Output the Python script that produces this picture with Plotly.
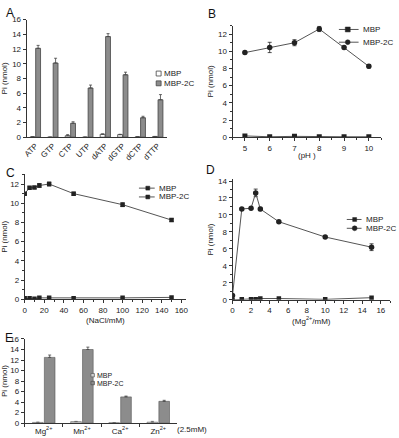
import plotly.graph_objects as go

# ---------------- data ----------------
A_cats = ["ATP", "GTP", "CTP", "UTP", "dATP", "dGTP", "dCTP", "dTTP"]
A_mbp = [0.05, 0.0, 0.2, 0.0, 0.4, 0.35, 0.05, 0.1]
A_mbp_err = [0, 0, 0.15, 0, 0.05, 0.05, 0, 0]
A_2c = [12.1, 10.1, 1.9, 6.7, 13.7, 8.5, 2.65, 5.1]
A_2c_err = [0.4, 0.65, 0.2, 0.4, 0.4, 0.35, 0.2, 0.7]

B_ph = [5, 6, 7, 8, 9, 10]
B_mbp = [0.15, 0.05, 0.1, 0.05, 0.05, 0.05]
B_2c = [9.85, 10.45, 11.0, 12.6, 10.45, 8.25]
B_2c_err = [0.15, 0.6, 0.35, 0.3, 0.15, 0.2]

C_nacl = [0, 5, 10, 15, 25, 50, 100, 150]
C_mbp = [0.1, 0.1, 0.05, 0.15, 0.15, 0.1, 0.15, 0.2]
C_2c = [11.0, 11.6, 11.65, 11.85, 12.0, 11.0, 9.85, 8.25]
C_2c_err = [0.1, 0.1, 0.1, 0.2, 0.2, 0.15, 0.2, 0.15]

D_mg = [0, 1, 2, 2.5, 3, 5, 10, 15]
D_mbp = [0.0, 0.05, 0.05, 0.05, 0.15, 0.15, 0.05, 0.25]
D_2c = [0.5, 10.7, 10.8, 12.6, 10.7, 9.2, 7.4, 6.2]
D_2c_err = [0.1, 0.1, 0.1, 0.45, 0.2, 0.1, 0.1, 0.4]

E_cats = ["Mg<sup>2+</sup>", "Mn<sup>2+</sup>", "Ca<sup>2+</sup>", "Zn<sup>2+</sup>"]
E_mbp = [0.15, 0.3, 0.1, 0.2]
E_mbp_err = [0.05, 0.05, 0.03, 0.15]
E_2c = [12.5, 14.0, 5.0, 4.15]
E_2c_err = [0.45, 0.45, 0.15, 0.2]

SERIES = ["MBP", "MBP-2C"]

W, H = 399, 438
FONT = "Arial, Liberation Sans, sans-serif"
BAR_GRAY = "#8c8c8c"
DARK = "#222222"
LINE = "#555555"


def px_x(a, b):
    return [a / W, b / W]


def px_y(top, bottom):
    return [1 - bottom / H, 1 - top / H]


fig = go.Figure()

# ---------- A ----------
fig.add_trace(go.Bar(x=A_cats, y=A_mbp, name=SERIES[0], xaxis="x", yaxis="y",
                     marker=dict(color="white", line=dict(color="#444", width=0.8)),
                     error_y=dict(type="data", array=A_mbp_err, arrayminus=[0]*8, symmetric=False,
                                  color="#444", thickness=0.8, width=1.5)))
fig.add_trace(go.Bar(x=A_cats, y=A_2c, name=SERIES[1], xaxis="x", yaxis="y",
                     marker=dict(color=BAR_GRAY, line=dict(color="#444", width=0.8)),
                     error_y=dict(type="data", array=A_2c_err, arrayminus=[0]*8, symmetric=False,
                                  color="#444", thickness=0.8, width=1.5)))

# ---------- B ----------
line_kw = dict(mode="lines+markers", line=dict(color=LINE, width=1))
fig.add_trace(go.Scatter(x=B_ph, y=B_mbp, name=SERIES[0], xaxis="x2", yaxis="y2",
                         marker=dict(symbol="square", size=5, color=DARK), **line_kw))
fig.add_trace(go.Scatter(x=B_ph, y=B_2c, name=SERIES[1], xaxis="x2", yaxis="y2",
                         marker=dict(symbol="circle", size=5.5, color=DARK),
                         error_y=dict(type="data", array=B_2c_err, color=DARK, thickness=0.8, width=2),
                         **line_kw))

# ---------- C ----------
fig.add_trace(go.Scatter(x=C_nacl, y=C_mbp, name=SERIES[0], xaxis="x3", yaxis="y3",
                         marker=dict(symbol="square", size=4.5, color=DARK), **line_kw))
fig.add_trace(go.Scatter(x=C_nacl, y=C_2c, name=SERIES[1], xaxis="x3", yaxis="y3",
                         marker=dict(symbol="square", size=4.5, color=DARK),
                         error_y=dict(type="data", array=C_2c_err, color=DARK, thickness=0.8, width=2),
                         **line_kw))

# ---------- D ----------
fig.add_trace(go.Scatter(x=D_mg, y=D_mbp, name=SERIES[0], xaxis="x4", yaxis="y4",
                         marker=dict(symbol="square", size=4.5, color=DARK), **line_kw))
fig.add_trace(go.Scatter(x=D_mg, y=D_2c, name=SERIES[1], xaxis="x4", yaxis="y4",
                         marker=dict(symbol="circle", size=5.5, color=DARK),
                         error_y=dict(type="data", array=D_2c_err, color=DARK, thickness=0.8, width=2),
                         **line_kw))

# ---------- E ----------
fig.add_trace(go.Bar(x=E_cats, y=E_mbp, name=SERIES[0], xaxis="x5", yaxis="y5",
                     marker=dict(color="#d0d0d0", line=dict(color="#666", width=0.6)),
                     error_y=dict(type="data", array=E_mbp_err, arrayminus=[0]*4, symmetric=False,
                                  color="#666", thickness=0.8, width=1.5)))
fig.add_trace(go.Bar(x=E_cats, y=E_2c, name=SERIES[1], xaxis="x5", yaxis="y5",
                     marker=dict(color=BAR_GRAY, line=dict(color="#555", width=0.6)),
                     error_y=dict(type="data", array=E_2c_err, arrayminus=[0]*4, symmetric=False,
                                  color="#444", thickness=0.8, width=1.5)))

axis_common = dict(showline=True, linecolor="#333", linewidth=1, ticklen=3,
                   tickcolor="#333", tickwidth=1, showgrid=False, zeroline=False,
                   tickfont=dict(size=8, color="#222", family=FONT))
minor = dict(ticks="outside", ticklen=2, tickcolor="#333", showgrid=False)
ytitle = dict(text="Pi (nmol)", font=dict(size=8, color="#222", family=FONT), standoff=3)
xtitle_font = dict(size=8, color="#222", family=FONT)

fig.update_layout(
    width=W, height=H, margin=dict(l=0, r=0, t=0, b=0),
    paper_bgcolor="white", plot_bgcolor="white",
    font=dict(family=FONT, size=8, color="#222"),
    showlegend=False,
    barmode="group", bargap=0.38, bargroupgap=0.1,
    xaxis=dict(domain=px_x(23, 165), anchor="y", tickangle=-45, ticks="", **axis_common),
    yaxis=dict(domain=px_y(16, 136), anchor="x", range=[0, 16], dtick=2, ticks="outside",
               title=ytitle, **axis_common),
    xaxis2=dict(domain=px_x(232, 383), anchor="y2", range=[4.5, 10.5], dtick=1, ticks="outside",
                title=dict(text="(pH )", font=xtitle_font, standoff=0), minor=dict(dtick=0.5, **minor), **axis_common),
    yaxis2=dict(domain=px_y(22, 136), anchor="x2", range=[0, 13], dtick=2, ticks="outside", title=ytitle,
                minor=dict(dtick=1, **minor), **axis_common),
    xaxis3=dict(domain=px_x(21, 185), anchor="y3", range=[0, 165], dtick=20, ticks="outside",
                title=dict(text="(NaCl/mM)", font=xtitle_font, standoff=3), minor=dict(dtick=10, **minor), **axis_common),
    yaxis3=dict(domain=px_y(174, 301.5), anchor="x3", range=[0, 13], dtick=2, ticks="outside", title=ytitle,
                minor=dict(dtick=1, **minor), **axis_common),
    xaxis4=dict(domain=px_x(232, 392), anchor="y4", range=[0, 17], dtick=2, ticks="outside",
                title=dict(text="(Mg<sup>2+</sup>/mM)", font=xtitle_font, standoff=0), minor=dict(dtick=1, **minor), **axis_common),
    yaxis4=dict(domain=px_y(179, 302), anchor="x4", range=[0, 14.2], dtick=2, ticks="outside", title=ytitle,
                minor=dict(dtick=1, **minor), **axis_common),
    xaxis5=dict(domain=px_x(21, 176), anchor="y5", ticks="outside", tickson="boundaries", **axis_common),
    yaxis5=dict(domain=px_y(342, 428), anchor="x5", range=[0, 16], dtick=2, ticks="outside",
                title=ytitle, **axis_common),
)

# ---------- hand-drawn legends (paper coordinates, pixel helpers) ----------
def X(p):
    return p / W


def Y(p):
    return 1 - p / H


def legend_text(label, x, y, size=8):
    fig.add_annotation(text=label, x=X(x), y=Y(y), xref="paper", yref="paper",
                       xanchor="left", yanchor="middle", showarrow=False,
                       font=dict(size=size, color="#222", family=FONT))


def legend_box(label, x, y, fill, edge, s=5, size=8):
    fig.add_shape(type="rect", xref="paper", yref="paper",
                  x0=X(x - s / 2), x1=X(x + s / 2), y0=Y(y + s / 2), y1=Y(y - s / 2),
                  fillcolor=fill, line=dict(color=edge, width=0.8))
    legend_text(label, x + s / 2 + 1, y, size)


def legend_line(label, x0, x1, xm, y, symbol, s=5):
    fig.add_shape(type="line", xref="paper", yref="paper",
                  x0=X(x0), x1=X(x1), y0=Y(y), y1=Y(y), line=dict(color=LINE, width=1))
    fig.add_shape(type="circle" if symbol == "circle" else "rect", xref="paper", yref="paper",
                  x0=X(xm - s / 2), x1=X(xm + s / 2), y0=Y(y + s / 2), y1=Y(y - s / 2),
                  fillcolor=DARK, line=dict(color=DARK, width=0.5))
    legend_text(label, x1 + 2, y)


# A
legend_box(SERIES[0], 157, 71, "white", "#444")
legend_box(SERIES[1], 157, 81, BAR_GRAY, "#444")
# B
legend_line(SERIES[0], 340, 360, 349, 26, "square")
legend_line(SERIES[1], 340, 360, 349, 39, "circle")
# C
legend_line(SERIES[0], 137, 153, 146, 188, "square", 4)
legend_line(SERIES[1], 137, 153, 146, 197, "square", 4)
# D
legend_line(SERIES[0], 348, 363, 356, 220, "square", 4)
legend_line(SERIES[1], 348, 363, 356, 229, "circle", 5)
# E
legend_box(SERIES[0], 90, 379, "#d0d0d0", "#666", 3.5, 7)
legend_box(SERIES[1], 90, 387, BAR_GRAY, "#555", 3.5, 7)

panel_font = dict(size=12, color="#111", family=FONT)
for letter, xp, yp in [("A", 0, 0), ("B", 205, 1), ("C", 0, 163), ("D", 203, 160), ("E", -1, 332)]:
    fig.add_annotation(text=letter, x=X(xp), y=Y(yp), xref="paper", yref="paper",
                       xanchor="left", yanchor="top", showarrow=False, font=panel_font)

fig.add_annotation(text="(2.5mM)", x=X(174), y=Y(428), xref="paper", yref="paper",
                   xanchor="left", yanchor="top", showarrow=False, font=dict(size=8, color="#222", family=FONT))

fig.write_html("out.html")
